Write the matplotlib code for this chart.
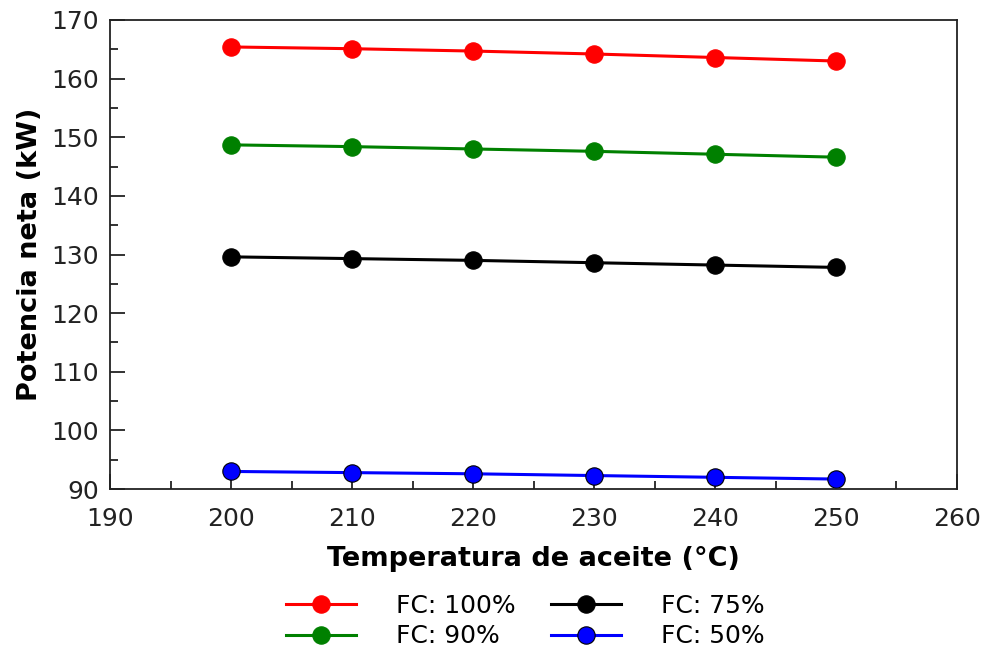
import matplotlib
matplotlib.use("Agg")
import matplotlib.pyplot as plt
from matplotlib.ticker import MultipleLocator

# Datos: potencia neta vs temperatura de aceite
temperatura = [200, 210, 220, 230, 240, 250]
fc_100 = [165.4, 165.1, 164.7, 164.2, 163.6, 163.0]
fc_90 = [148.7, 148.4, 148.0, 147.6, 147.1, 146.6]
fc_75 = [129.6, 129.3, 129.0, 128.6, 128.2, 127.8]
fc_50 = [93.0, 92.8, 92.6, 92.3, 92.0, 91.7]

plt.rcParams['font.family'] = ['DejaVu Sans']

fig = plt.figure(figsize=(9.87, 6.53), dpi=100)
ax = fig.add_axes([0.1115, 0.2511, 0.8581, 0.7183])

series = [
    (fc_100, 'red', 'red', "FC: 100%"),
    (fc_90, 'green', 'green', "FC: 90%"),
    (fc_75, 'black', 'black', "FC: 75%"),
    (fc_50, 'blue', 'black', "FC: 50%"),
]
for valores, color, borde, etiqueta in series:
    ax.plot(temperatura, valores, color=color, lw=2.2, marker='o', ms=12.5,
            markerfacecolor=color, markeredgecolor=borde, markeredgewidth=0.8,
            label=etiqueta, zorder=2)

ax.set_xlim(190, 260)
ax.set_ylim(90, 170)
ax.xaxis.set_major_locator(MultipleLocator(10))
ax.xaxis.set_minor_locator(MultipleLocator(5))
ax.yaxis.set_major_locator(MultipleLocator(10))
ax.yaxis.set_minor_locator(MultipleLocator(5))
ax.tick_params(which='both', direction='in', top=False, right=False,
               width=1.3, labelsize=18, colors='#222222', zorder=5)
ax.tick_params(axis='x', pad=13)
ax.tick_params(axis='y', pad=8)
ax.tick_params(which='major', length=11)
ax.tick_params(which='minor', length=5.5)
for sp in ax.spines.values():
    sp.set_linewidth(1.3)
    sp.set_color('#222222')
    sp.set_zorder(5)

ax.set_xlabel("Temperatura de aceite (°C)", fontsize=19.5, fontweight='bold', labelpad=11)
ax.set_ylabel("Potencia neta (kW)", fontsize=19.5, fontweight='bold', labelpad=6)

ax.legend(loc='upper center', bbox_to_anchor=(0.49, -0.203), ncol=2, frameon=False,
          fontsize=18, handlelength=2.8, handletextpad=1.6, columnspacing=1.4,
          labelspacing=0.25, borderaxespad=0)

fig.savefig("out.png", dpi=100)
